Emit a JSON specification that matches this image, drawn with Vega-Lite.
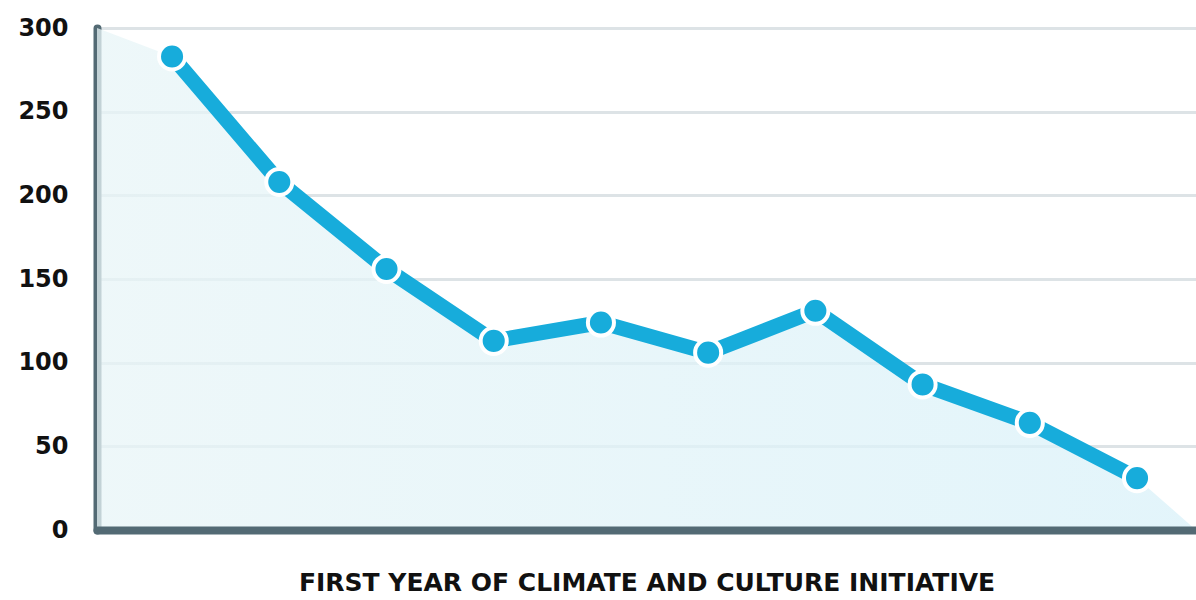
{
  "$schema": "https://vega.github.io/schema/vega-lite/v6.json",
  "autosize": {"type": "none"},
  "width": 1099,
  "height": 502,
  "padding": {"left": 97, "top": 28, "right": 0, "bottom": 70},
  "background": "white",
  "config": {"view": {"stroke": null}},
  "datasets": {
    "series": [
      {"x": 1, "y": 283},
      {"x": 2, "y": 208},
      {"x": 3, "y": 156},
      {"x": 4, "y": 113},
      {"x": 5, "y": 124},
      {"x": 6, "y": 106},
      {"x": 7, "y": 131},
      {"x": 8, "y": 87},
      {"x": 9, "y": 64},
      {"x": 10, "y": 31}
    ],
    "fill": [
      {"x": 0.3, "y": 300},
      {"x": 1, "y": 283},
      {"x": 2, "y": 208},
      {"x": 3, "y": 156},
      {"x": 4, "y": 113},
      {"x": 5, "y": 124},
      {"x": 6, "y": 106},
      {"x": 7, "y": 131},
      {"x": 8, "y": 87},
      {"x": 9, "y": 64},
      {"x": 10, "y": 31},
      {"x": 10.55, "y": 0}
    ]
  },
  "encoding": {
    "x": {
      "field": "x",
      "type": "quantitative",
      "scale": {"domain": [0.3, 10.55], "nice": false, "zero": false},
      "axis": {
        "title": "FIRST YEAR OF CLIMATE AND CULTURE INITIATIVE",
        "titleFont": "DejaVu Sans",
        "titleFontWeight": "bold",
        "titleFontSize": 25,
        "titleColor": "#111111",
        "titlePadding": 40,
        "labels": false,
        "ticks": false,
        "grid": false,
        "domainColor": "#536a74",
        "domainWidth": 8,
        "domainCap": "round",
        "zindex": 1
      }
    },
    "y": {
      "field": "y",
      "type": "quantitative",
      "scale": {"domain": [0, 300], "nice": false},
      "axis": {
        "title": null,
        "values": [0, 50, 100, 150, 200, 250, 300],
        "labelFont": "DejaVu Sans",
        "labelFontWeight": "bold",
        "labelFontSize": 24,
        "labelColor": "#111111",
        "labelPadding": 29,
        "ticks": false,
        "tickSize": 0,
        "grid": true,
        "gridColor": "#dde3e6",
        "gridWidth": 3,
        "domainColor": "#536a74",
        "domainWidth": 8,
        "domainCap": "round",
        "zindex": 0
      }
    }
  },
  "layer": [
    {
      "data": {"name": "fill"},
      "mark": {
        "type": "area",
        "fillOpacity": 0.75,
        "color": {
          "gradient": "linear",
          "x1": 0, "y1": 0, "x2": 1, "y2": 0,
          "stops": [
            {"offset": 0, "color": "#e8f5f7"},
            {"offset": 1, "color": "#d9f1f9"}
          ]
        }
      }
    },
    {
      "data": {"name": "series"},
      "mark": {"type": "line", "color": "#17acdb", "strokeWidth": 15}
    },
    {
      "data": {"name": "series"},
      "mark": {"type": "point", "shape": "circle", "filled": true, "fill": "#17acdb", "stroke": "white", "strokeWidth": 4, "size": 680, "opacity": 1}
    }
  ]
}
